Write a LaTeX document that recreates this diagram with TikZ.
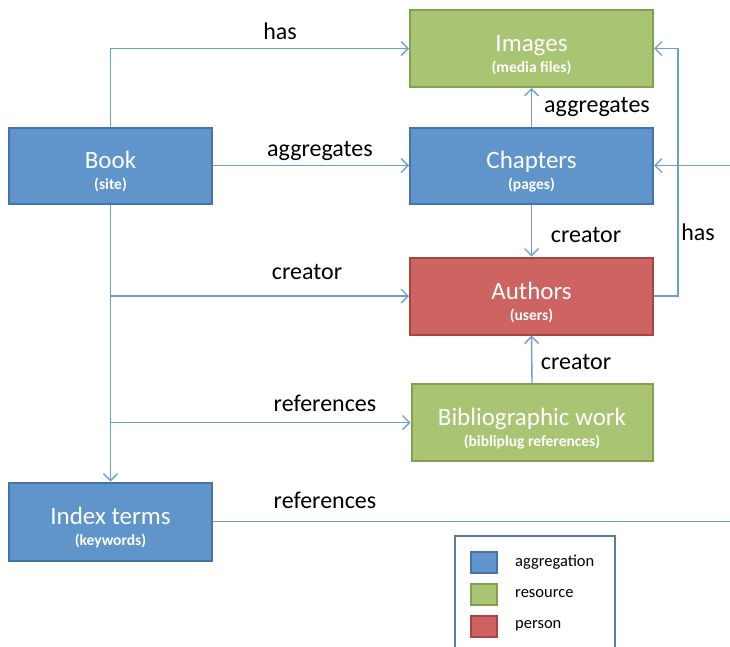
\documentclass[tikz,border=0pt]{standalone}
\usepackage{fontspec}
\setmainfont{Carlito}
\usetikzlibrary{arrows.meta}

\definecolor{aggfill}{HTML}{5F95CA}
\definecolor{aggdraw}{HTML}{4674A8}
\definecolor{resfill}{HTML}{A9C574}
\definecolor{resdraw}{HTML}{839F50}
\definecolor{perfill}{HTML}{CD6461}
\definecolor{perdraw}{HTML}{A8453F}
\definecolor{linkcol}{HTML}{6E9DD1}
\definecolor{framecol}{HTML}{5C7BA6}

\tikzset{
  entity/.style={rectangle, line width=2pt, text=white, align=center,
    inner sep=0pt, font=\fontsize{25}{27}\selectfont},
  aggregation/.style={entity, fill=aggfill, draw=aggdraw},
  resource/.style={entity, fill=resfill, draw=resdraw},
  person/.style={entity, fill=perfill, draw=perdraw},
  link/.style={draw=linkcol, line width=1.4pt,
    -{Straight Barb[length=7pt,width=14pt,line width=1.4pt]}},
  plainlink/.style={draw=linkcol, line width=1.4pt},
  relation/.style={font=\fontsize{24}{26}\selectfont, inner sep=0pt},
  swatch/.style={rectangle, line width=2pt, minimum width=26pt,
    minimum height=21pt, inner sep=0pt},
  keytext/.style={anchor=west, font=\fontsize{16.5}{18}\selectfont, inner sep=0pt}
}

% Helper: one entity box: name, x, y, width, height, kind, title, subtitle
\newcommand{\entity}[8]{%
  \node[#6, minimum width=#4pt, minimum height=#5pt] (#1) at (#2,#3)
    {\rule{0pt}{30pt}#7\\[-6pt]{\fontsize{15.5}{18}\selectfont\bfseries #8}};
}

\begin{document}
\begin{tikzpicture}[x=1pt, y=-1pt]

\useasboundingbox (0,0) rectangle (730,646);

% --- boxes ---
\entity{images}{531.5}{48.5}{243}{77}{resource}{Images}{(media files)}
\entity{chapters}{531.5}{165.5}{243}{76}{aggregation}{Chapters}{(pages)}
\entity{authors}{531.5}{296}{243}{77}{person}{Authors}{(users)}
\entity{bib}{532}{422.5}{241}{77}{resource}{Bibliographic work}{(bibliplug references)}
\entity{book}{110.5}{165.5}{203}{76}{aggregation}{Book}{(site)}
\entity{index}{110.5}{521.5}{203}{78}{aggregation}{Index terms}{(keywords)}

% --- connectors ---
\coordinate (rightin) at (730,165.5);
\coordinate (rightout) at (730,521.5);
\coordinate (toauthors) at (110.5,296);
\coordinate (tobib) at (110.5,422.5);

\draw[link] (book.north) |- (images.west);
\draw[link] (book.east) -- (chapters.west);
\draw[link] (chapters.north) -- (images.south);
\draw[link] (chapters.south) -- (authors.north);
\draw[link] (authors.east) -- ++(24,0) |- (images.east);
\draw[link] (rightin) -- (chapters.east);
\draw[link] (book.south) -- (index.north);
\draw[link] (toauthors) -- (authors.west);
\draw[link] (tobib) -- (bib.west);
\draw[link] (bib.north) -- (authors.south);
\draw[plainlink] (index.east) -- (rightout);

% --- relation labels ---
\node[relation] (lhas) at (280,31) {has};
\node[relation] (laggbook) at (320,151) {aggregates};
\node[relation] (laggchap) at (597,107) {aggregates};
\node[relation] (lcrechap) at (586,235) {creator};
\node[relation] (lhasauth) at (698,232) {has};
\node[relation] (lcrebook) at (307,272) {creator};
\node[relation] (lrefbook) at (325,403) {references};
\node[relation] (lcrebib) at (576,362) {creator};
\node[relation] (lrefindex) at (325,500) {references};

% --- legend ---
\draw[draw=framecol, line width=2pt] (455,652) |- (615,536) -- (615,652);
\node[swatch, fill=aggfill, draw=aggdraw] (keyagg) at (484,562) {};
\node[swatch, fill=resfill, draw=resdraw] (keyres) at (484,594) {};
\node[swatch, fill=perfill, draw=perdraw] (keyper) at (484,626) {};
\node[keytext] (tagg) at (515,562) {aggregation};
\node[keytext] (tres) at (515,594) {resource};
\node[keytext] (tper) at (515,626) {person};

\end{tikzpicture}
\end{document}
